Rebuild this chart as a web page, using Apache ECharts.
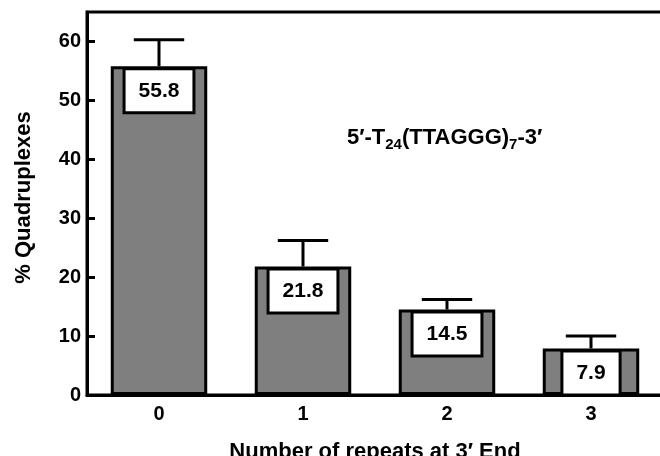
<!DOCTYPE html>
<html>
<head>
<meta charset="utf-8">
<script src="https://cdn.jsdelivr.net/npm/echarts@6/dist/echarts.min.js"></script>
<style>
html,body{margin:0;padding:0;background:#fff;}
#chart{width:660px;height:456px;}
</style>
</head>
<body>
<div id="chart"></div>
<script>
const categories = ['0', '1', '2', '3'];
const values = [55.8, 21.8, 14.5, 7.9];
const errors = [4.5, 4.4, 1.7, 2.1];
const yTicks = [0, 10, 20, 30, 40, 50, 60];
const xTitle = 'Number of repeats at 3\u2032 End';
const yTitle = '% Quadruplexes';

const FONT = '"Liberation Sans", Arial, Helvetica, sans-serif';
const chart = echarts.init(document.getElementById('chart'));

const errData = values.map((v, i) => [i, v, errors[i]]);

chart.setOption({
  animation: false,
  backgroundColor: '#fff',
  grid: {
    left: 87, right: -3, top: 12, bottom: 61,
    outerBoundsMode: 'none',
    containLabel: false,
    show: true, borderColor: '#000', borderWidth: 3, backgroundColor: 'transparent'
  },
  xAxis: {
    type: 'category',
    data: categories,
    axisLine: { lineStyle: { color: '#000', width: 3 } },
    axisTick: { show: false },
    axisLabel: { color: '#000', fontFamily: FONT, fontWeight: 'bold', fontSize: 20, margin: 9 },
    name: xTitle,
    nameLocation: 'middle',
    nameGap: 46,
    nameTextStyle: { color: '#000', fontFamily: FONT, fontWeight: 'bold', fontSize: 22 }
  },
  yAxis: {
    type: 'value',
    min: 0, max: 65, interval: 10,
    splitLine: { show: false },
    axisLine: { show: true, lineStyle: { color: '#000', width: 3 } },
    axisTick: { show: true, inside: true, length: 8, lineStyle: { color: '#000', width: 3 }, customValues: yTicks },
    axisLabel: { color: '#000', fontFamily: FONT, fontWeight: 'bold', fontSize: 20, margin: 6, customValues: yTicks },
    name: yTitle,
    nameLocation: 'middle',
    nameGap: 52,
    nameTextStyle: { color: '#000', fontFamily: FONT, fontWeight: 'bold', fontSize: 22, padding: [0, 0, 0, 12] }
  },
  series: [
    {
      type: 'custom',
      z: 1,
      data: errData,
      encode: { x: 0, y: 1 },
      renderItem: function (params, api) {
        const i = api.value(0), v = api.value(1), e = api.value(2);
        const base = api.coord([i, v]);
        const top = api.coord([i, v + e]);
        const half = api.size([1, 0])[0] * 0.175;
        return {
          type: 'group',
          children: [
            { type: 'line', shape: { x1: base[0], y1: base[1], x2: top[0], y2: top[1] }, style: { stroke: '#000', lineWidth: 3 } },
            { type: 'line', shape: { x1: top[0] - half, y1: top[1], x2: top[0] + half, y2: top[1] }, style: { stroke: '#000', lineWidth: 3 } }
          ]
        };
      }
    },
    {
      type: 'bar',
      z: 2,
      data: values,
      barWidth: '67%',
      itemStyle: { color: '#7f7f7f', borderColor: '#000', borderWidth: 3 },
      label: {
        show: true,
        position: 'insideTop',
        distance: 4,
        formatter: p => p.value.toFixed(1),
        color: '#000',
        fontFamily: FONT,
        fontWeight: 'bold',
        fontSize: 21,
        lineHeight: 21,
        backgroundColor: '#fff',
        borderColor: '#000',
        borderWidth: 3,
        padding: [10, 13]
      }
    }
  ],
  graphic: [
    {
      type: 'text',
      left: 347,
      top: 127,
      style: {
        text: '{n|5\u2032-T}{s|24}{n|(TTAGGG)}{s|7}{n|-3\u2032}',
        rich: {
          n: { fontFamily: FONT, fontWeight: 'bold', fontSize: 22, lineHeight: 29, fill: '#000' },
          s: { fontFamily: FONT, fontWeight: 'bold', fontSize: 15, lineHeight: 15, verticalAlign: 'bottom', fill: '#000' }
        }
      }
    }
  ]
});
</script>
</body>
</html>
